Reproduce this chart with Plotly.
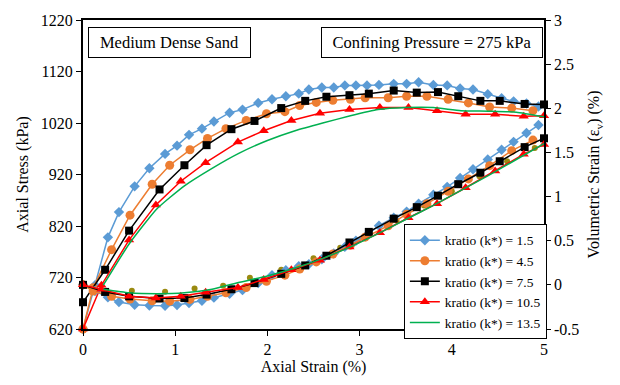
import plotly.graph_objects as go

# ---------------- data ----------------
blue_x = [0, 0.13, 0.27, 0.39, 0.56, 0.72, 0.89, 1.02, 1.15, 1.29, 1.42, 1.59, 1.73, 1.90, 2.05, 2.20, 2.34, 2.45,
          2.59, 2.72, 2.84, 2.96, 3.08, 3.21, 3.37, 3.51, 3.64, 3.80, 3.95, 4.09, 4.23, 4.39, 4.54, 4.67, 4.81, 4.94]
blue_stress = [620, 705, 798, 847, 897, 932, 960, 976, 997, 1009, 1023, 1040, 1046, 1059, 1066, 1072, 1077, 1085,
               1089, 1089, 1093, 1093, 1093, 1094, 1096, 1096, 1099, 1094, 1093, 1087, 1085, 1076, 1068, 1062, 1058, 1052]
blue_vol = [0, -0.07, -0.14, -0.195, -0.225, -0.235, -0.237, -0.228, -0.205, -0.18, -0.145, -0.10, -0.06, 0.02, 0.11,
            0.165, 0.21, 0.235, 0.29, 0.355, 0.43, 0.50, 0.565, 0.67, 0.76, 0.83, 0.92, 1.02, 1.11, 1.21, 1.31, 1.42,
            1.53, 1.62, 1.72, 1.81]

orange_x = [0, 0.11, 0.31, 0.51, 0.75, 0.94, 1.16, 1.35, 1.55, 1.77, 1.99, 2.19, 2.35, 2.53, 2.71, 2.90, 3.06,
            3.31, 3.51, 3.73, 3.96, 4.18, 4.41, 4.65, 4.88]
orange_stress = [620, 700, 774, 841, 901, 938, 968, 990, 1009, 1025, 1038, 1042, 1054, 1060, 1064, 1066, 1069,
                 1069, 1072, 1072, 1066, 1059, 1051, 1049, 1044]
orange_vol = [0, -0.07, -0.13, -0.16, -0.18, -0.185, -0.165, -0.13, -0.09, -0.03, 0.04, 0.11, 0.18, 0.26, 0.35,
              0.45, 0.54, 0.67, 0.80, 0.92, 1.06, 1.20, 1.35, 1.52, 1.64]

black_x = [0, 0.24, 0.50, 0.83, 1.10, 1.34, 1.61, 1.86, 2.15, 2.41, 2.64, 2.89, 3.10, 3.37, 3.62, 3.85, 4.07,
           4.31, 4.52, 4.79, 5.0]
black_stress = [672, 735, 811, 891, 938, 977, 1008, 1024, 1049, 1063, 1071, 1074, 1077, 1083, 1079, 1080, 1072,
                1063, 1063, 1057, 1056]
black_vol = [0, -0.08, -0.13, -0.155, -0.15, -0.11, -0.05, 0.02, 0.125, 0.22, 0.33, 0.48, 0.60, 0.75, 0.88, 1.01,
             1.14, 1.27, 1.40, 1.56, 1.66]

red_x = [0, 0.20, 0.50, 0.79, 1.06, 1.33, 1.68, 1.96, 2.26, 2.57, 2.89, 3.22, 3.53, 3.84, 4.15, 4.47, 4.78, 5.0]
red_stress = [620, 705, 793, 861, 907, 943, 983, 1005, 1025, 1039, 1046, 1050, 1050, 1044, 1037, 1037, 1033, 1034]
red_vol = [0, -0.05, -0.13, -0.15, -0.13, -0.085, -0.03, 0.06, 0.17, 0.28, 0.43, 0.59, 0.76, 0.92, 1.10, 1.29,
           1.48, 1.59]

green_x = [0.22, 0.5, 0.8, 1.1, 1.4, 1.7, 2.0, 2.3, 2.6, 2.9, 3.2, 3.5, 3.8, 4.1, 4.4, 4.7, 5.0]
green_stress = [705, 785, 853, 898, 932, 962, 986, 1005, 1020, 1034, 1046, 1050, 1050, 1044, 1043, 1041, 1032]
green_vol = [-0.05, -0.09, -0.10, -0.09, -0.05, 0.03, 0.10, 0.19, 0.30, 0.43, 0.58, 0.74, 0.90, 1.07, 1.24, 1.42,
             1.60]

olive_x = [0.53, 0.89, 1.21, 1.52, 1.81, 2.15, 2.50, 2.79, 3.10, 3.40, 3.70, 4.00, 4.30, 4.60, 4.90]
olive_vol = [-0.066, -0.077, -0.04, -0.01, 0.08, 0.17, 0.30, 0.42, 0.57, 0.73, 0.90, 1.06, 1.23, 1.40, 1.55]

series_names = ["kratio (k*) = 1.5", "kratio (k*) = 4.5", "kratio (k*) = 7.5",
                "kratio (k*) = 10.5", "kratio (k*) = 13.5"]

left_ticks = [620, 720, 820, 920, 1020, 1120, 1220]
right_ticks = [-0.5, 0, 0.5, 1, 1.5, 2, 2.5, 3]
right_tick_text = ["-0.5", "0", "0.5", "1", "1.5", "2", "2.5", "3"]
x_ticks = [0, 1, 2, 3, 4, 5]

# ---------------- figure ----------------
FONT = "Liberation Serif"
fig = go.Figure()

# faint olive markers hidden under the other curves
fig.add_trace(go.Scatter(x=olive_x, y=olive_vol, mode="markers", showlegend=False,
                         marker=dict(color="#9A8A10", symbol="circle", size=6),
                         cliponaxis=False, yaxis="y2"))

styles = [
    ("#5B9BD5", "diamond", 8),
    ("#ED7D31", "circle", 9),
    ("#000000", "square", 8),
    ("#FF0000", "triangle-up", 9),
]
data = [
    (blue_x, blue_stress, blue_vol),
    (orange_x, orange_stress, orange_vol),
    (black_x, black_stress, black_vol),
    (red_x, red_stress, red_vol),
]

for i, ((xs, st, vo), (col, sym, sz)) in enumerate(zip(data, styles)):
    fig.add_trace(go.Scatter(x=xs, y=st, mode="lines+markers", name=series_names[i],
                             legendgroup=series_names[i], showlegend=True,
                             line=dict(color=col, width=1.5),
                             marker=dict(color=col, symbol=sym, size=sz),
                             cliponaxis=False, yaxis="y"))
    fig.add_trace(go.Scatter(x=xs, y=vo, mode="lines+markers", name=series_names[i],
                             legendgroup=series_names[i], showlegend=False,
                             line=dict(color=col, width=1.5),
                             marker=dict(color=col, symbol=sym, size=sz),
                             cliponaxis=False, yaxis="y2"))

fig.add_trace(go.Scatter(x=green_x, y=green_stress, mode="lines", name=series_names[4],
                         legendgroup=series_names[4], showlegend=True,
                         line=dict(color="#00B050", width=1.5, shape="spline", smoothing=0.5),
                         cliponaxis=False, yaxis="y"))
fig.add_trace(go.Scatter(x=green_x, y=green_vol, mode="lines", name=series_names[4],
                         legendgroup=series_names[4], showlegend=False,
                         line=dict(color="#00B050", width=1.5, shape="spline", smoothing=0.5),
                         cliponaxis=False, yaxis="y2"))

fig.update_layout(
    width=620, height=385,
    margin=dict(l=83, r=76, t=17, b=51),
    paper_bgcolor="white", plot_bgcolor="white",
    font=dict(family=FONT, size=16, color="black"),
    xaxis=dict(range=[0, 5], tickvals=x_ticks, showgrid=False, zeroline=False,
               showline=True, linecolor="black", linewidth=1.5, mirror=True,
               ticks="outside", ticklen=5, tickcolor="black",
               tickfont=dict(family=FONT, size=16),
               title=dict(text="Axial Strain (%)", standoff=4, font=dict(family=FONT, size=16))),
    yaxis=dict(range=[620, 1220], tickvals=left_ticks, showgrid=False, zeroline=False,
               showline=True, linecolor="black", linewidth=2,
               ticks="outside", ticklen=5, tickcolor="black",
               tickfont=dict(family=FONT, size=16),
               title=dict(text="Axial Stress (kPa)", standoff=8, font=dict(family=FONT, size=16))),
    yaxis2=dict(range=[-0.5, 3], tickvals=right_ticks, ticktext=right_tick_text,
                overlaying="y", side="right", showgrid=False, zeroline=False,
                showline=True, linecolor="black", linewidth=1.5,
                ticks="outside", ticklen=5, tickcolor="black",
                tickfont=dict(family=FONT, size=16),
                title=dict(text="Volumetric Strain (ε<sub>v</sub>) (%)", standoff=10,
                           font=dict(family=FONT, size=16))),
    legend=dict(x=0.696, y=0.34, xanchor="left", yanchor="top",
                bordercolor="black", borderwidth=1, bgcolor="white",
                font=dict(family=FONT, size=13.5), itemwidth=30,
                tracegroupgap=0),
    annotations=[
        dict(text="Medium Dense Sand", xref="paper", yref="paper", x=0.1887, y=0.928,
             xanchor="center", yanchor="middle", showarrow=False,
             bordercolor="black", borderwidth=1, borderpad=3, bgcolor="white",
             width=155, height=23, font=dict(family=FONT, size=16.5)),
        dict(text="Confining Pressure = 275 kPa", xref="paper", yref="paper", x=0.756, y=0.928,
             xanchor="center", yanchor="middle", showarrow=False,
             bordercolor="black", borderwidth=1, borderpad=3, bgcolor="white",
             width=214, height=23, font=dict(family=FONT, size=16.5)),
    ],
)

fig.write_html("out.html")
